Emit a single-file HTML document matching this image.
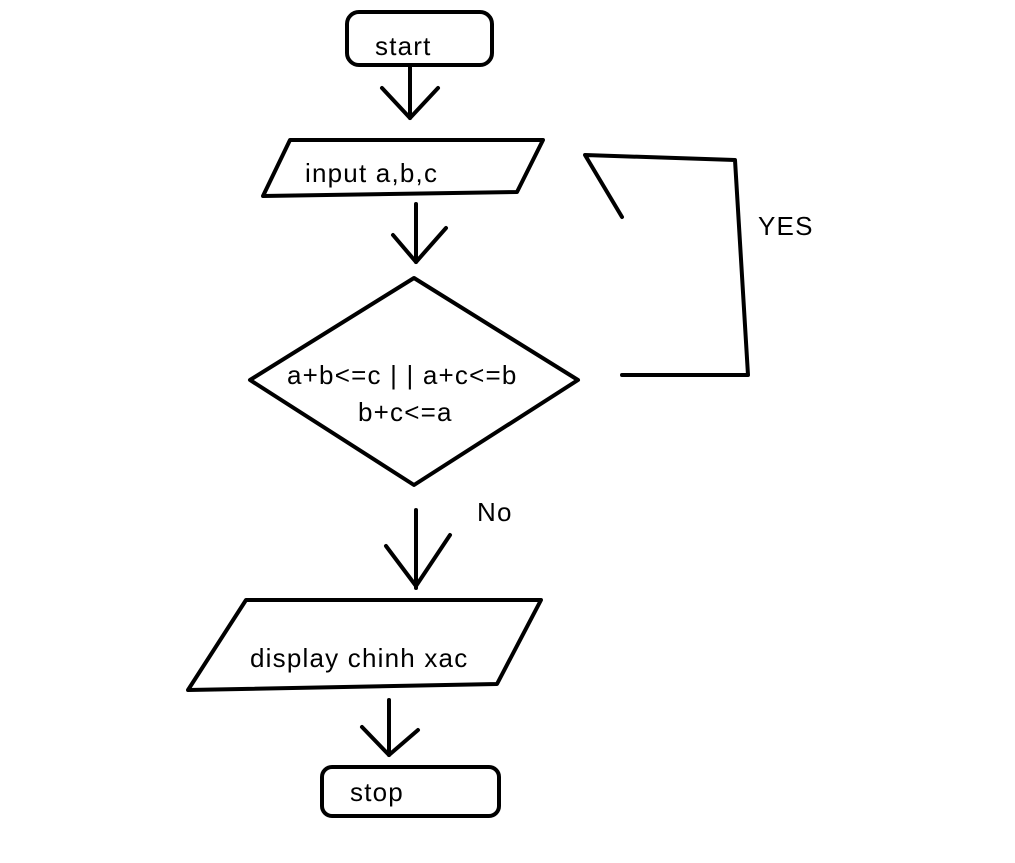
<!DOCTYPE html>
<html><head><meta charset="utf-8"><style>
html,body{margin:0;padding:0;background:#fff;}
svg{display:block;}
text{font-family:"Liberation Sans",sans-serif;font-size:26px;letter-spacing:1.2px;fill:#000;}
</style></head><body>
<svg width="1015" height="863" viewBox="0 0 1015 863" xmlns="http://www.w3.org/2000/svg">
<g fill="none" stroke="#000" stroke-width="4" stroke-linecap="round" stroke-linejoin="round">
<rect x="347" y="12" width="145" height="53" rx="12"/>
<line x1="410" y1="65" x2="410" y2="118"/>
<polyline points="382,88 410,118 438,88"/>
<polygon points="263,196 290,140 543,140 517,192"/>
<line x1="416" y1="204" x2="416" y2="262"/>
<polyline points="393,235 416,262 446,228"/>
<polygon points="414,278 250,380 414,485 578,380"/>
<polyline points="622,375 748,375 735,160 585,155 622,217"/>
<line x1="416" y1="510" x2="416" y2="588"/>
<polyline points="386,546 416,586 450,535"/>
<polygon points="188,690 246,600 541,600 497,684"/>
<line x1="389" y1="700" x2="389" y2="755"/>
<polyline points="362,727 389,755 418,730"/>
<rect x="322" y="767" width="177" height="49" rx="10"/>
</g>
<text x="375" y="55">start</text>
<text x="305" y="182">input a,b,c</text>
<text x="287" y="384">a+b&lt;=c | | a+c&lt;=b</text>
<text x="358" y="421">b+c&lt;=a</text>
<text x="758" y="235">YES</text>
<text x="477" y="521">No</text>
<text x="250" y="667">display chinh xac</text>
<text x="350" y="801">stop</text>
</svg>
</body></html>
